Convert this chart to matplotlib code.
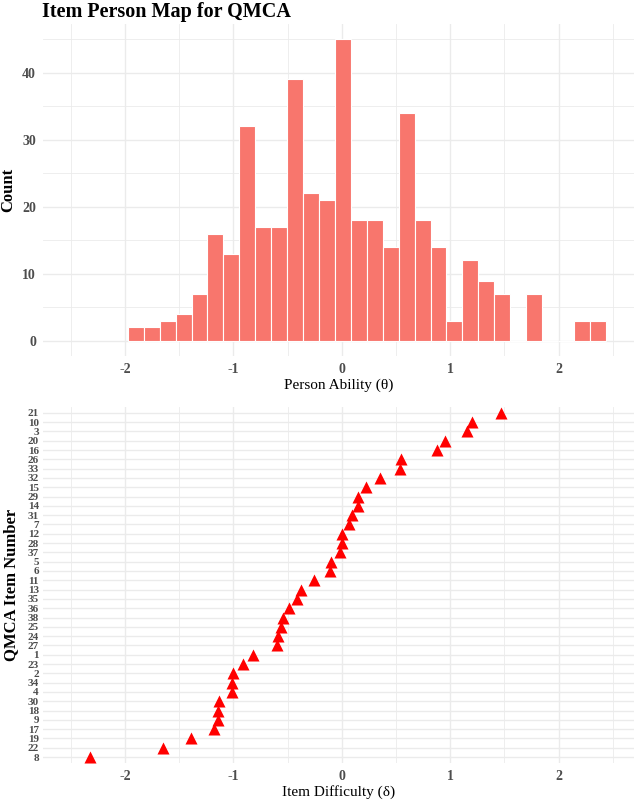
import numpy as np
import matplotlib
matplotlib.use("Agg")
import matplotlib.pyplot as plt

# person ability histogram (30 bins)
bin_first_edge = -1.974
bin_width = 0.147
person_counts = [2, 2, 3, 4, 7, 16, 13, 32, 17, 17, 39, 22, 21, 45, 18,
                 18, 14, 34, 18, 14, 3, 12, 9, 7, 0, 7, 0, 0, 3, 3]

# item difficulties, hardest first
item_labels = ["21", "10", "3", "20", "16", "26", "33", "32", "15", "29",
               "14", "31", "7", "12", "28", "37", "5", "6", "11", "13",
               "35", "36", "38", "25", "24", "27", "1", "23", "2", "34",
               "4", "30", "18", "9", "17", "19", "22", "8"]
item_difficulty = [1.47, 1.20, 1.16, 0.95, 0.88, 0.55, 0.54, 0.35, 0.22, 0.15,
                   0.15, 0.09, 0.065, 0.00, 0.00, -0.015, -0.10, -0.11, -0.26, -0.38,
                   -0.41, -0.49, -0.54, -0.56, -0.59, -0.60, -0.82, -0.91, -1.00, -1.01,
                   -1.01, -1.13, -1.14, -1.14, -1.18, -1.39, -1.65, -2.32]

x_ticks = [-2, -1, 0, 1, 2]

plt.rcParams['font.family'] = ['Liberation Serif', 'DejaVu Serif']
plt.rcParams['axes.unicode_minus'] = False
grid_col = "#EBEBEB"
tick_col = "#4D4D4D"

W, H = 634, 805
fig = plt.figure(figsize=(W / 100, H / 100), dpi=100)


def px_axes(left, top, right, bottom):
    return fig.add_axes([left / W, 1 - bottom / H, (right - left) / W, (bottom - top) / H])


def style(ax):
    for s in ax.spines.values():
        s.set_visible(False)
    ax.tick_params(length=0, colors=tick_col, labelsize=10, pad=5)
    for lab in ax.get_xticklabels() + ax.get_yticklabels():
        lab.set_fontweight("bold")
    ax.set_axisbelow(True)


xlim = (-2.756, 2.696)

# --- top: person abilities
ax1 = px_axes(43, 24, 634, 356)
edges = bin_first_edge + bin_width * np.arange(len(person_counts) + 1)
centers = (edges[:-1] + edges[1:]) / 2
ax1.bar(centers, person_counts, width=bin_width, color="#F8766D",
        edgecolor="white", linewidth=0.8)
ax1.set_xlim(*xlim)
ax1.set_ylim(-2.25, 47.25)
ax1.set_xticks(x_ticks)
ax1.set_xticks(np.arange(-2.5, 3.0, 1.0), minor=True)
ax1.set_yticks([0, 10, 20, 30, 40])
ax1.set_yticks([5, 15, 25, 35, 45], minor=True)
ax1.grid(True, which="major", color=grid_col, linewidth=1.0)
ax1.grid(True, which="minor", color=grid_col, linewidth=0.6)
ax1.tick_params(which="minor", length=0)
style(ax1)
ax1.set_xlabel("Person Ability (θ)", fontsize=11, labelpad=2)
ax1.set_ylabel("Count", fontsize=12, fontweight="bold", labelpad=4)

fig.text(42 / W, 1 - 2 / H, "Item Person Map for QMCA", fontsize=14.5,
         fontweight="bold", ha="left", va="top")

# --- bottom: item difficulties
ax2 = px_axes(43, 407.3, 634, 762.6)
ax2.scatter(item_difficulty[::-1], item_labels[::-1], marker="^", s=75,
            color="red", zorder=3, linewidths=0)
ax2.set_xlim(*xlim)
ax2.set_ylim(-0.6, len(item_labels) - 0.4)
ax2.set_xticks(x_ticks)
ax2.set_xticks(np.arange(-2.5, 3.0, 1.0), minor=True)
ax2.grid(True, which="major", color=grid_col, linewidth=1.0)
ax2.grid(True, which="minor", axis="x", color=grid_col, linewidth=0.6)
ax2.tick_params(which="minor", length=0)
style(ax2)
# item numbers sit 9 px apart: keep them small enough not to collide
ax2.tick_params(axis="y", pad=3, labelsize=8)
ax2.set_xlabel("Item Difficulty (δ)", fontsize=11, labelpad=2)
ax2.set_ylabel("QMCA Item Number", fontsize=12, fontweight="bold", labelpad=6)

fig.savefig("out.png", dpi=100)
